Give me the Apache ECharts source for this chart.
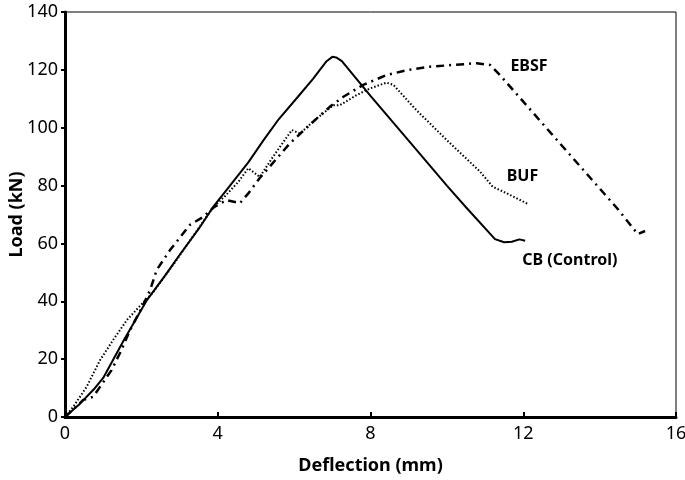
<!DOCTYPE html>
<html>
<head>
<meta charset="utf-8">
<script src="https://cdn.jsdelivr.net/npm/echarts@6/dist/echarts.min.js"></script>
<style>html,body{margin:0;padding:0;background:#fff;}#c{width:685px;height:480px;}</style>
</head>
<body>
<div id="c"></div>
<script>
// Deflection (mm), Load (kN)
var cbData = [[0,0],[0.4,4.7],[0.75,9.5],[1.0,13.5],[1.25,19.5],[1.55,26.8],[1.8,32.5],[2.15,40.5],[2.6,48.5],[3.0,56],[3.5,65],[3.9,73],[4.3,79.6],[4.8,88],[5.2,95.7],[5.6,103],[6.1,110.7],[6.5,117],[6.85,123],[7.0,124.5],[7.1,124.3],[7.25,123],[8.0,111],[9.16,93],[10.0,80],[10.5,72.5],[11.26,61.5],[11.5,60.4],[11.7,60.6],[11.9,61.4],[12.05,60.9]];
var bufData = [[0,0],[0.22,3.6],[0.57,10.5],[0.92,19.7],[1.26,26.6],[1.62,33.5],[1.9,37.5],[2.3,43],[2.8,52],[3.3,61.5],[3.88,72.5],[4.2,76.5],[4.54,81.3],[4.8,86],[5.1,83],[5.45,90],[5.94,99.2],[6.15,98],[6.59,103.2],[7.03,107.8],[7.2,107.8],[7.64,111.3],[7.99,113.6],[8.42,115.6],[8.6,114.8],[9.2,106.1],[10.0,95.7],[10.87,84.8],[11.2,79.6],[11.57,77.3],[12.13,73.6]];
var ebsfData = [[0,0],[0.48,5.9],[0.74,7],[0.92,10.5],[1.22,16.2],[1.48,23.2],[1.7,30],[2.0,37.5],[2.23,43.9],[2.4,50.8],[2.75,57.7],[3.06,62.9],[3.27,66.4],[3.6,69],[3.9,72.5],[4.23,75],[4.58,73.9],[4.8,77.3],[5.1,82.6],[5.89,94.6],[6.41,101],[6.94,107.3],[7.29,110.7],[7.81,114.8],[8.42,118.2],[8.95,119.9],[9.56,121.1],[10.78,122.3],[11.13,121.7],[11.39,118.2],[12.5,101.5],[13.5,86.5],[14.5,71.5],[15.0,63.2],[15.19,64.3]];
var seriesNames = ['CB (Control)','BUF','EBSF'];
var xTicks = [0,4,8,12,16];
var yTicks = [0,20,40,60,80,100,120,140];
var labelCoords = [[13.22,54.1],[11.98,83.1],[12.15,121.3]];

var chart = echarts.init(document.getElementById('c'));
var txtFont = 'Noto Sans';
function lbl(i){
  return {symbol:'circle',symbolSize:0,silent:true,data:[{coord:labelCoords[i],
    label:{show:true,position:'inside',formatter:seriesNames[i],color:'#000',fontWeight:'bold',fontSize:16,fontFamily:txtFont}}]};
}
chart.setOption({
  animation:false,
  backgroundColor:'#fff',
  grid:{left:65,right:9,top:12,bottom:63,containLabel:false,outerBoundsMode:'none',show:true,borderColor:'#000',borderWidth:1,backgroundColor:'transparent'},
  xAxis:{type:'value',min:xTicks[0],max:xTicks[xTicks.length-1],interval:4,
    name:'Deflection (mm)',nameLocation:'middle',nameGap:40,nameMoveOverlap:false,
    nameTextStyle:{color:'#000',fontWeight:'bold',fontSize:18,fontFamily:txtFont},
    axisLine:{show:true,onZero:false,lineStyle:{color:'#000',width:3}},
    axisTick:{show:true,inside:true,length:5,lineStyle:{color:'#000',width:2}},
    axisLabel:{color:'#000',fontSize:18,fontFamily:txtFont,margin:8},
    splitLine:{show:false}},
  yAxis:{type:'value',min:yTicks[0],max:yTicks[yTicks.length-1],interval:20,
    name:'Load (kN)',nameLocation:'middle',nameGap:39,nameRotate:90,nameMoveOverlap:false,
    nameTextStyle:{color:'#000',fontWeight:'bold',fontSize:18,fontFamily:txtFont},
    axisLine:{show:true,onZero:false,lineStyle:{color:'#000',width:3}},
    axisTick:{show:true,inside:false,length:4,lineStyle:{color:'#000',width:2}},
    axisLabel:{color:'#000',fontSize:18,fontFamily:txtFont,margin:7},
    splitLine:{show:false}},
  series:[
    {name:seriesNames[0],type:'line',data:cbData,showSymbol:false,smooth:false,
      lineStyle:{color:'#000',width:2},markPoint:lbl(0)},
    {name:seriesNames[1],type:'line',data:bufData,showSymbol:false,smooth:false,
      lineStyle:{color:'#000',width:2,type:[1.5,2],cap:'butt'},markPoint:lbl(1)},
    {name:seriesNames[2],type:'line',data:ebsfData,showSymbol:false,smooth:false,
      lineStyle:{color:'#000',width:2.5,type:[8,5,2,5],cap:'butt'},markPoint:lbl(2)}
  ]
});
</script>
</body>
</html>
